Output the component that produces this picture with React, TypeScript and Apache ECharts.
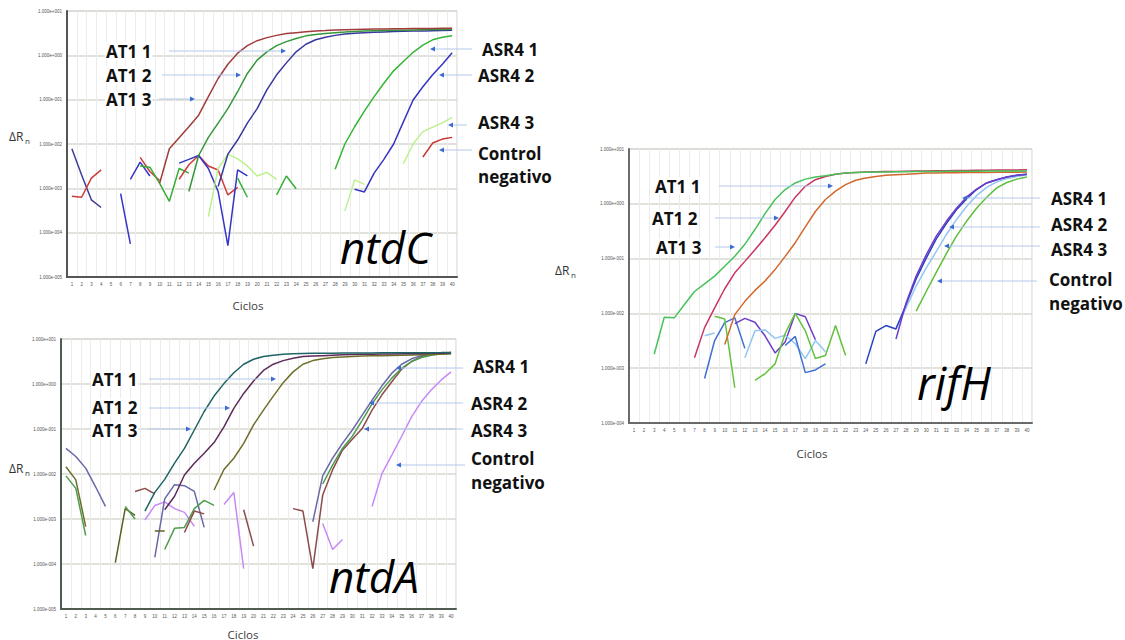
import React, { useEffect, useRef } from "react";
import * as echarts from "echarts";

type P = [number, number];

// ---------- axis categories / ranges ----------
const cycles = ["1","2","3","4","5","6","7","8","9","10","11","12","13","14","15","16","17","18","19","20","21","22","23","24","25","26","27","28","29","30","31","32","33","34","35","36","37","38","39","40"];
const ntdCRange = [1e-5, 10];
const ntdARange = [1e-5, 10];
const rifHRange = [1e-4, 10];

// ---------- ntdC ----------
const ntdC_AT1_1: P[] = [[10,1.3e-3],[11,7.8e-3],[12,0.0138],[13,0.0245],[14,0.0447],[15,0.117],[16,0.30],[17,0.63],[18,1.12],[19,1.66],[20,2.14],[21,2.51],[22,2.82],[23,3.09],[24,3.24],[25,3.39],[26,3.55],[27,3.63],[28,3.72],[29,3.80],[30,3.85],[31,3.89],[32,3.92],[33,3.95],[34,3.97],[35,3.99],[36,4.01],[37,4.03],[38,4.05],[39,4.06],[40,4.07]];
const ntdC_AT1_2: P[] = [[13,8.5e-4],[14,5.5e-3],[15,0.0141],[16,0.0295],[17,0.063],[18,0.151],[19,0.39],[20,0.78],[21,1.20],[22,1.66],[23,2.04],[24,2.40],[25,2.75],[26,2.95],[27,3.09],[28,3.24],[29,3.35],[30,3.47],[31,3.52],[32,3.57],[33,3.62],[34,3.66],[35,3.70],[36,3.74],[37,3.78],[38,3.82],[39,3.85],[40,3.89]];
const ntdC_AT1_3: P[] = [[16,1.1e-3],[17,5.9e-3],[18,0.0123],[19,0.0295],[20,0.063],[21,0.166],[22,0.363],[23,0.676],[24,1.20],[25,1.78],[26,2.24],[27,2.57],[28,2.82],[29,3.02],[30,3.16],[31,3.25],[32,3.32],[33,3.38],[34,3.44],[35,3.48],[36,3.52],[37,3.56],[38,3.60],[39,3.64],[40,3.68]];
const ntdC_ASR4_1: P[] = [[28,2.7e-3],[29,0.01],[30,0.0245],[31,0.055],[32,0.117],[33,0.234],[34,0.447],[35,0.724],[36,1.17],[37,1.70],[38,2.24],[39,2.57],[40,2.75]];
const ntdC_ASR4_2: P[] = [[30,9.5e-4],[31,8.3e-4],[32,2.2e-3],[33,4.5e-3],[34,0.01],[35,0.0316],[36,0.098],[37,0.195],[38,0.363],[39,0.63],[40,1.15]];
const ntdC_ASR4_3a: P[] = [[29,3.1e-4],[30,1.55e-3],[31,1.23e-3]];
const ntdC_ASR4_3b: P[] = [[35,3.6e-3],[36,0.01],[37,0.019],[38,0.024],[39,0.030],[40,0.040]];
const ntdC_ctrl: P[] = [[37,5.1e-3],[38,0.0105],[39,0.0129],[40,0.0141]];
const ntdC_n1: P[] = [[1,7.8e-3],[2,2.0e-3],[3,5.5e-4],[4,3.7e-4]];
const ntdC_n2: P[] = [[1,6.6e-4],[2,6.3e-4],[3,1.7e-3],[4,2.6e-3]];
const ntdC_n3: P[] = [[6,7.6e-4],[7,5.6e-5]];
const ntdC_n4: P[] = [[7,1.6e-3],[8,3.9e-3],[9,1.9e-3]];
const ntdC_n5: P[] = [[8,5.0e-3],[9,2.4e-3],[10,1.5e-3]];
const ntdC_n6: P[] = [[8,3.2e-3],[9,3.0e-3],[10,1.3e-3],[11,5.1e-4],[12,2.8e-3],[13,2.2e-3]];
const ntdC_n7: P[] = [[12,1.6e-3],[13,3.4e-3],[14,5.5e-3],[15,3.2e-3],[16,2.6e-3],[17,7.1e-4],[18,1.05e-3]];
const ntdC_n8: P[] = [[12,3.7e-3],[13,4.5e-3],[14,5.5e-3],[15,2.8e-3],[16,8.5e-4],[17,5.1e-5],[18,2.6e-3],[19,1.9e-3]];
const ntdC_n9: P[] = [[15,2.3e-4],[16,2.8e-3],[17,5.9e-3],[18,4.6e-3],[19,3.2e-3],[20,1.9e-3],[21,2.3e-3],[22,1.6e-3]];
const ntdC_n10: P[] = [[18,1.7e-3],[19,6.3e-4]];
const ntdC_n11: P[] = [[22,7.1e-4],[23,1.9e-3],[24,9.8e-4]];

// ---------- ntdA ----------
const ntdA_AT1_1: P[] = [[9,1.5e-3],[10,3.9e-3],[11,7.6e-3],[12,0.0174],[13,0.037],[14,0.095],[15,0.245],[16,0.54],[17,1.02],[18,1.78],[19,2.75],[20,3.55],[21,4.07],[22,4.37],[23,4.57],[24,4.68],[25,4.75],[26,4.8],[27,4.82],[28,4.84],[29,4.86],[30,4.88],[31,4.9],[32,4.91],[33,4.92],[34,4.93],[35,4.94],[36,4.95],[37,4.96],[38,4.97],[39,4.98],[40,5.0]];
const ntdA_AT1_2: P[] = [[11,1.6e-3],[12,3.2e-3],[13,9.5e-3],[14,0.0174],[15,0.0288],[16,0.050],[17,0.112],[18,0.288],[19,0.617],[20,1.17],[21,2.0],[22,2.75],[23,3.31],[24,3.72],[25,4.07],[26,4.17],[27,4.27],[28,4.37],[29,4.45],[30,4.52],[31,4.57],[32,4.6],[33,4.63],[34,4.66],[35,4.69],[36,4.72],[37,4.76],[38,4.8],[39,4.85],[40,4.9]];
const ntdA_AT1_3: P[] = [[16,4.4e-3],[17,0.0126],[18,0.0224],[19,0.0479],[20,0.123],[21,0.263],[22,0.537],[23,1.07],[24,1.86],[25,2.75],[26,3.31],[27,3.63],[28,3.89],[29,4.0],[30,4.1],[31,4.17],[32,4.22],[33,4.27],[34,4.32],[35,4.37],[36,4.42],[37,4.47],[38,4.52],[39,4.57],[40,4.68]];
const ntdA_ASR4_1: P[] = [[26,8.7e-4],[27,9.1e-3],[28,0.0224],[29,0.0479],[30,0.095],[31,0.204],[32,0.437],[33,0.912],[34,1.74],[35,2.75],[36,3.63],[37,4.27],[38,4.68],[39,4.79],[40,5.0]];
const ntdA_ASR4_2: P[] = [[27,6.0e-3],[28,0.0158],[29,0.037],[30,0.069],[31,0.155],[32,0.363],[33,0.741],[34,1.35],[35,2.24],[36,3.16],[37,3.89],[38,4.37],[39,4.68],[40,4.79]];
const ntdA_ASR4_3: P[] = [[24,1.7e-3],[25,1.5e-3],[26,7.9e-5],[27,3.4e-3],[28,0.0123],[29,0.0339],[30,0.0589],[31,0.102],[32,0.263],[33,0.575],[34,1.12],[35,2.14],[36,3.16],[37,4.07],[38,4.57],[39,4.79],[40,5.0]];
const ntdA_ctrl: P[] = [[32,1.9e-3],[33,0.0102],[34,0.0263],[35,0.069],[36,0.186],[37,0.407],[38,0.741],[39,1.23],[40,1.86]];
const ntdA_n1: P[] = [[1,0.037],[2,0.0245],[3,0.0135],[4,5.2e-3],[5,1.9e-3]];
const ntdA_n2: P[] = [[1,0.0145],[2,7.4e-3],[3,6.8e-4]];
const ntdA_n3: P[] = [[1,9.1e-3],[2,4.8e-3],[3,4.3e-4]];
const ntdA_n4: P[] = [[6,1.07e-4],[7,1.7e-3],[8,1.2e-3]];
const ntdA_n5: P[] = [[7,1.9e-3],[8,1.0e-3]];
const ntdA_n6: P[] = [[8,4.1e-3],[9,4.8e-3],[10,3.6e-3]];
const ntdA_n7: P[] = [[9,9.5e-4],[10,2.0e-3],[11,2.4e-3],[12,1.7e-3],[13,1.4e-3],[14,6.9e-4]];
const ntdA_n8: P[] = [[10,1.4e-4],[11,2.8e-3],[12,5.8e-3],[13,5.5e-3],[14,4.1e-3],[15,6.5e-4]];
const ntdA_n9: P[] = [[10,5.4e-4],[11,5.4e-4]];
const ntdA_n10: P[] = [[11,2.1e-4],[12,6.2e-4],[13,6.5e-4],[14,1.7e-3],[15,2.6e-3],[16,2.0e-3]];
const ntdA_n11: P[] = [[13,5.0e-4],[14,1.5e-3],[15,1.3e-3]];
const ntdA_n12: P[] = [[17,2.1e-3],[18,3.9e-3],[19,7.9e-5]];
const ntdA_n13: P[] = [[19,1.6e-3],[20,2.5e-4]];
const ntdA_n14: P[] = [[27,7.9e-4],[28,2.1e-4],[29,3.5e-4]];

// ---------- rifH ----------
const rifH_AT1_1: P[] = [[3,1.8e-3],[4,8.5e-3],[5,8.3e-3],[6,0.0145],[7,0.0251],[8,0.0347],[9,0.0479],[10,0.0724],[11,0.110],[12,0.182],[13,0.339],[14,0.661],[15,1.20],[16,1.82],[17,2.40],[18,2.82],[19,3.09],[20,3.24],[21,3.47],[22,3.63],[23,3.72],[24,3.76],[25,3.80],[26,3.82],[27,3.84],[28,3.86],[29,3.88],[30,3.89],[31,3.90],[32,3.91],[33,3.92],[34,3.93],[35,3.94],[36,3.95],[37,3.96],[38,3.97],[39,3.97],[40,3.98]];
const rifH_AT1_2: P[] = [[7,1.55e-3],[8,5.5e-3],[9,0.0126],[10,0.0282],[11,0.055],[12,0.089],[13,0.145],[14,0.240],[15,0.407],[16,0.724],[17,1.32],[18,2.09],[19,2.75],[20,3.16],[21,3.47],[22,3.63],[23,3.72],[24,3.80],[25,3.85],[26,3.88],[27,3.90],[28,3.93],[29,3.96],[30,3.98],[31,4.0],[32,4.02],[33,4.04],[34,4.06],[35,4.08],[36,4.10],[37,4.12],[38,4.14],[39,4.15],[40,4.17]];
const rifH_AT1_3: P[] = [[10,2.7e-3],[11,9.5e-3],[12,0.0166],[13,0.0263],[14,0.0389],[15,0.063],[16,0.110],[17,0.195],[18,0.380],[19,0.724],[20,1.20],[21,1.70],[22,2.24],[23,2.69],[24,2.95],[25,3.16],[26,3.31],[27,3.40],[28,3.47],[29,3.55],[30,3.63],[31,3.65],[32,3.67],[33,3.69],[34,3.71],[35,3.72],[36,3.74],[37,3.75],[38,3.77],[39,3.78],[40,3.80]];
const rifH_ASR4_1: P[] = [[27,3.4e-3],[28,0.0155],[29,0.0479],[30,0.117],[31,0.257],[32,0.479],[33,0.832],[34,1.32],[35,1.86],[36,2.40],[37,2.75],[38,3.09],[39,3.31],[40,3.47]];
const rifH_ASR4_2: P[] = [[24,1.2e-3],[25,4.7e-3],[26,6.0e-3],[27,5.2e-3],[28,0.0145],[29,0.0427],[30,0.102],[31,0.229],[32,0.437],[33,0.776],[34,1.23],[35,1.82],[36,2.40],[37,2.75],[38,3.09],[39,3.31],[40,3.47]];
const rifH_ASR4_3: P[] = [[27,5.5e-3],[28,0.0126],[29,0.0316],[30,0.0676],[31,0.135],[32,0.275],[33,0.513],[34,0.891],[35,1.41],[36,2.0],[37,2.51],[38,2.88],[39,3.16],[40,3.39]];
const rifH_ctrl: P[] = [[29,0.011],[30,0.0251],[31,0.056],[32,0.123],[33,0.257],[34,0.479],[35,0.832],[36,1.32],[37,1.95],[38,2.45],[39,2.82],[40,3.09]];
const rifH_n1: P[] = [[8,3.9e-3],[9,4.4e-3]];
const rifH_n2: P[] = [[8,6.5e-4],[9,3.2e-3],[10,6.8e-3],[11,8.3e-3],[12,2.3e-3]];
const rifH_n3: P[] = [[9,8.9e-3],[10,7.9e-3],[11,4.4e-4]];
const rifH_n4: P[] = [[11,6.5e-3],[12,8.1e-3],[13,6.9e-3],[14,3.9e-3],[15,1.9e-3],[16,3.0e-3],[17,0.01],[18,8.7e-3],[19,3.3e-3]];
const rifH_n5: P[] = [[12,1.55e-3],[13,4.8e-3],[14,5.0e-3],[15,3.5e-3],[16,4.0e-3],[17,2.8e-3],[18,1.5e-3],[19,3.2e-3],[20,2.0e-3]];
const rifH_n6: P[] = [[16,2.6e-3],[17,3.8e-3],[18,8.3e-4],[19,9.3e-4],[20,1.2e-3]];
const rifH_n7: P[] = [[13,6.0e-4],[14,7.9e-4],[15,1.2e-3],[16,4.3e-3],[17,0.01],[18,4.8e-3],[19,1.5e-3],[20,1.7e-3],[21,6.0e-3],[22,1.7e-3]];

// ---------- series specs: [panel, data, colour] ----------
const seriesSpecs: [number, P[], string][] = [
  [0, ntdC_n1, "#3d3d98"], [0, ntdC_n2, "#cf3b3b"], [0, ntdC_n3, "#3535c8"], [0, ntdC_n4, "#3535c8"],
  [0, ntdC_n5, "#cf3b3b"], [0, ntdC_n6, "#35b035"], [0, ntdC_n7, "#cf3b3b"], [0, ntdC_n8, "#3535c8"],
  [0, ntdC_n9, "#bdf08f"], [0, ntdC_n10, "#35b035"], [0, ntdC_n11, "#35b035"],
  [0, ntdC_ASR4_3a, "#bdf08f"], [0, ntdC_ASR4_3b, "#bdf08f"], [0, ntdC_ctrl, "#c83232"],
  [0, ntdC_ASR4_1, "#35b535"], [0, ntdC_ASR4_2, "#3535c4"],
  [0, ntdC_AT1_3, "#38389e"], [0, ntdC_AT1_2, "#34983a"], [0, ntdC_AT1_1, "#a23c3c"],

  [1, ntdA_n1, "#6868aa"], [1, ntdA_n2, "#6e6e2a"], [1, ntdA_n3, "#4e9c4e"], [1, ntdA_n4, "#5e5e22"],
  [1, ntdA_n5, "#4e9c4e"], [1, ntdA_n6, "#8c4b4b"], [1, ntdA_n7, "#c78af5"], [1, ntdA_n8, "#6868aa"],
  [1, ntdA_n9, "#5e5e22"], [1, ntdA_n10, "#4e9c4e"], [1, ntdA_n11, "#8c4b4b"], [1, ntdA_n12, "#c78af5"],
  [1, ntdA_n13, "#8c4b4b"], [1, ntdA_n14, "#c78af5"],
  [1, ntdA_ctrl, "#c78af5"], [1, ntdA_ASR4_3, "#8c4b4b"], [1, ntdA_ASR4_2, "#4e9c4e"], [1, ntdA_ASR4_1, "#6868aa"],
  [1, ntdA_AT1_3, "#6e6e28"], [1, ntdA_AT1_2, "#5e2a5a"], [1, ntdA_AT1_1, "#1f6464"],

  [2, rifH_n1, "#93c6f0"], [2, rifH_n2, "#3f6fd2"], [2, rifH_n3, "#62c23c"], [2, rifH_n4, "#6e3cc8"],
  [2, rifH_n5, "#93c6f0"], [2, rifH_n6, "#3f6fd2"], [2, rifH_n7, "#62c23c"],
  [2, rifH_ctrl, "#5ebf3a"], [2, rifH_ASR4_3, "#93c6f0"], [2, rifH_ASR4_2, "#2a40c4"], [2, rifH_ASR4_1, "#6e3cc8"],
  [2, rifH_AT1_3, "#d2682d"], [2, rifH_AT1_2, "#c8375f"], [2, rifH_AT1_1, "#46c25a"],
];

// ---------- annotations ----------
const labelsLeft: [string, number, number][] = [
  ["AT1 1", 105, 51], ["AT1 2", 105, 75], ["AT1 3", 105, 99],
  ["AT1 1", 91, 379], ["AT1 2", 91, 407], ["AT1 3", 91, 430],
  ["AT1 1", 654, 186], ["AT1 2", 651, 218], ["AT1 3", 655, 247],
];
const labelsRight: [string, number, number][] = [
  ["ASR4 1", 481, 49], ["ASR4 2", 477, 75], ["ASR4 3", 477, 122], ["Control", 477, 153], ["negativo", 477, 176],
  ["ASR4 1", 472, 366], ["ASR4 2", 470, 403], ["ASR4 3", 470, 430], ["Control", 470, 458], ["negativo", 470, 482],
  ["ASR4 1", 1050, 198], ["ASR4 2", 1050, 224], ["ASR4 3", 1050, 249], ["Control", 1048, 279], ["negativo", 1048, 303],
];
const arrows: [number, number, number][] = [
  [169, 286, 51], [162, 241, 75], [159, 195, 99], [472, 430, 49], [472, 439, 75], [467, 448, 125], [472, 439, 150],
  [149, 276, 379], [149, 230, 408], [148, 191, 429], [463, 396, 368], [463, 369, 403], [463, 364, 429], [465, 396, 465],
  [719, 833, 186], [715, 779, 218], [715, 735, 247], [1040, 962, 198], [1040, 949, 227], [1040, 944, 246], [1037, 937, 281],
];
const geneNames: [string, number, number, number][] = [
  ["ntdC", 340, 247, 44], ["ntdA", 329, 576, 44], ["rifH", 917, 382, 45],
];
const yNames: [number, number][] = [[9, 136], [9, 468], [555, 270]];
const xNames: [number, number][] = [[248, 305], [243, 634], [812, 453]];

const grids = [
  { left: 67, top: 11, width: 390, height: 266 },
  { left: 61, top: 339, width: 395, height: 270 },
  { left: 629, top: 149, width: 403, height: 274 },
];
const ranges = [ntdCRange, ntdARange, rifHRange];
const axisColors = ["#555555", "#4f5c4f", "#6a6a6a"];

const fmtExp = (v: number) => {
  const e = Math.round(Math.log10(v));
  return `1.000e${e < 0 ? "-" : "+"}${String(Math.abs(e)).padStart(3, "0")}`;
};

export default function App() {
  const ref = useRef<HTMLDivElement>(null);
  useEffect(() => {
    if (!ref.current) return;
    const chart = echarts.init(ref.current, undefined, { renderer: "svg" });
    const FONT = "Open Sans";

    const graphic: any[] = [];
    arrows.forEach(([x1, x2, y]) => {
      const dir = x2 > x1 ? 1 : -1;
      graphic.push({ type: "line", silent: true, z: 50, shape: { x1, y1: y, x2: x2 - dir * 2, y2: y }, style: { stroke: "#b3c8ec", lineWidth: 1 } });
      graphic.push({
        type: "polygon", silent: true, z: 51,
        shape: { points: [[x2, y], [x2 - dir * 5, y - 2.5], [x2 - dir * 5, y + 2.5]] },
        style: { fill: "#3d6cd0" },
      });
    });
    labelsLeft.concat(labelsRight).forEach(([t, x, y]) => {
      graphic.push({
        type: "text", x, y, silent: true, z: 60,
        style: { text: t, fontSize: 17, fontWeight: "bold", fontFamily: FONT, fill: "#111", align: "left", verticalAlign: "middle", backgroundColor: "#ffffff", padding: [0, 1, 0, 1] },
      });
    });
    geneNames.forEach(([t, x, y, fs]) => {
      graphic.push({
        type: "text", x, y, silent: true, z: 60,
        style: { text: t, fontSize: fs, fontStyle: "italic", fontFamily: FONT, fill: "#000", align: "left", verticalAlign: "middle" },
      });
    });
    yNames.forEach(([x, y]) => {
      graphic.push({ type: "text", x, y, silent: true, z: 60, style: { text: "ΔR", fontSize: 12, fontFamily: FONT, fill: "#333", align: "left", verticalAlign: "middle" } });
      graphic.push({ type: "text", x: x + 16, y: y + 4, silent: true, z: 60, style: { text: "n", fontSize: 8, fontFamily: FONT, fill: "#333", align: "left", verticalAlign: "middle" } });
    });
    xNames.forEach(([x, y]) => {
      graphic.push({ type: "text", x, y, silent: true, z: 60, style: { text: "Ciclos", fontSize: 11.5, fontFamily: FONT, fill: "#404040", align: "center", verticalAlign: "middle" } });
    });

    const option: any = {
      animation: false,
      backgroundColor: "#ffffff",
      grid: grids.map((g) => ({ ...g, show: true, borderColor: "#d2d2d2", borderWidth: 1, backgroundColor: "transparent", containLabel: false })),
      xAxis: grids.map((_, i) => ({
        type: "category", gridIndex: i, data: cycles, boundaryGap: true,
        axisLine: { show: true, lineStyle: { color: axisColors[i], width: 2 } },
        axisTick: { show: false },
        axisLabel: { interval: 0, fontSize: 4.5, color: "#555", margin: 5, fontFamily: "Liberation Sans" },
        splitLine: { show: true, interval: 0, lineStyle: { color: "#ececec", width: 1 } },
      })),
      yAxis: grids.map((_, i) => ({
        type: "log", gridIndex: i, logBase: 10, min: ranges[i][0], max: ranges[i][1], interval: 1,
        axisLine: { show: true, onZero: false, lineStyle: { color: axisColors[i], width: 2 } },
        axisTick: { show: false },
        minorTick: { show: false },
        axisLabel: { fontSize: 4.5, color: "#555", margin: 5, formatter: fmtExp, fontFamily: "Liberation Sans" },
        splitLine: { show: true, lineStyle: { color: "#d9d9d0", width: 1.5 } },
      })),
      series: seriesSpecs.map(([p, data, color]) => ({
        type: "line", xAxisIndex: p, yAxisIndex: p,
        data: data.map(([c, v]) => [String(c), v]),
        symbol: "none", showSymbol: false, silent: true,
        lineStyle: { color, width: 1.5 }, itemStyle: { color },
      })),
      graphic,
    };
    chart.setOption(option);
    return () => chart.dispose();
  }, []);
  return <div ref={ref} style={{ position: "absolute", left: 0, top: 0, width: 1125, height: 640 }} />;
}
